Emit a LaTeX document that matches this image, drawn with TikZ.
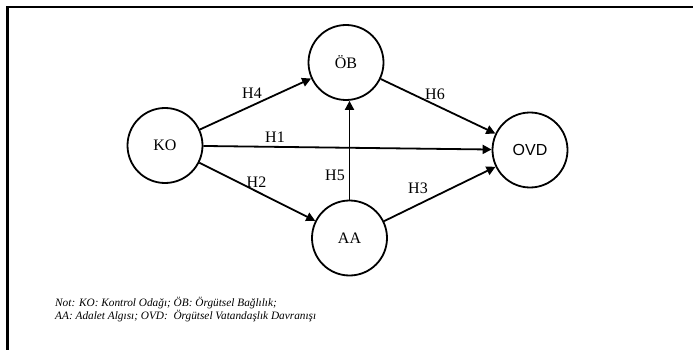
\documentclass[tikz,border=0pt]{standalone}
\usepackage{fontspec}
\setmainfont{Liberation Serif}
\newfontfamily\sansf{Liberation Sans}
\usetikzlibrary{arrows.meta}
\begin{document}
\begin{tikzpicture}[x=1pt,y=-1pt,
  var/.style={circle,draw,line width=1.8pt,minimum size=75pt,inner sep=0pt,font=\fontsize{16}{18}\selectfont},
  path/.style={line width=1.8pt,-{Triangle[length=9pt,width=9pt]}},
  hyp/.style={font=\fontsize{16}{18}\selectfont,inner sep=0pt}]
\useasboundingbox (0,0) rectangle (693,350);
% frame (top and left edges)
\draw[line width=2.4pt] (7.5,350) -- (7.5,7) -- (693,7);
% variables
\node[var] (KO) at (165,145.5) {KO};
\node[var] (OB) at (346,62.5) {ÖB};
\node[var] (AA) at (349.5,238) {AA};
\node[var,font=\sansf\fontsize{16}{18}\selectfont] (OVD) at (530,150) {OVD};
% hypothesised paths
\draw[path] (KO) -- (OB);
\draw[path] (KO) -- (OVD);
\draw[path] (KO) -- (AA);
\draw[path] (AA) -- (AA |- OB.south);
\draw[path] (OB) -- (OVD);
\draw[path] (AA) -- (OVD);
% path labels
\node[hyp] (h4) at (252,93) {H4};
\node[hyp] (h1) at (275,137) {H1};
\node[hyp] (h2) at (256.5,182) {H2};
\node[hyp] (h5) at (335,175) {H5};
\node[hyp] (h6) at (435,94) {H6};
\node[hyp] (h3) at (418,188) {H3};
% note
\node[anchor=west,align=left,inner sep=0pt,font=\itshape\fontsize{11.3}{13}\selectfont] (note) at (55,309.5)
  {Not: KO: Kontrol Odağı; ÖB: Örgütsel Bağlılık;\\AA: Adalet Algısı; OVD:\ \ Örgütsel Vatandaşlık Davranışı};
\end{tikzpicture}
\end{document}
